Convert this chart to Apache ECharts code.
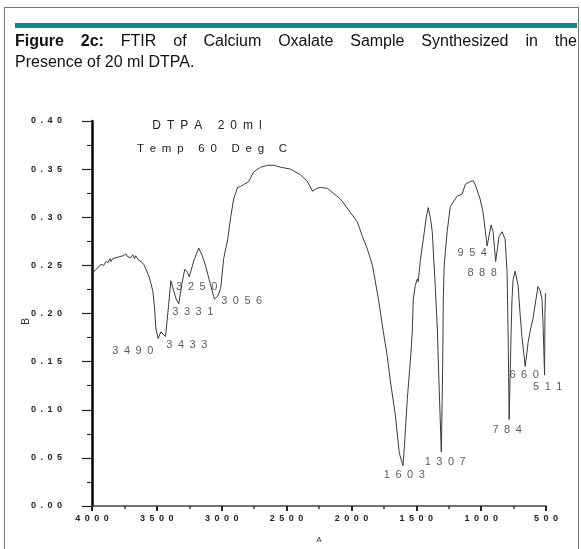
<!DOCTYPE html>
<html>
<head>
<meta charset="utf-8">
<script src="https://cdn.jsdelivr.net/npm/echarts@6/dist/echarts.min.js"></script>
<style>
  html, body { margin: 0; padding: 0; background: #fff; }
  #wrap { position: relative; width: 581px; height: 549px; overflow: hidden; }
  #frame { position: absolute; left: 4px; top: 7px; width: 573px; height: 560px; border: 1px solid #777; }
  #bar { position: absolute; left: 15px; top: 23px; width: 562px; height: 5px; background: #17878d; }
  #caption { position: absolute; left: 15px; top: 30px; width: 562px; font-family: "Liberation Sans", Arial, sans-serif;
             font-size: 16px; line-height: 21px; color: #111; }
  #caption .l1 { text-align: justify; text-align-last: justify; }
  #chart { position: absolute; left: 0; top: 0; width: 581px; height: 549px; }
</style>
</head>
<body>
<div id="wrap">
  <div id="chart"></div>
  <div id="frame"></div>
  <div id="bar"></div>
  <div id="caption">
    <div class="l1"><b>Figure 2c:</b> FTIR of Calcium Oxalate Sample Synthesized in the</div>
    <div>Presence of 20 ml DTPA.</div>
  </div>
</div>
<script>
// spectrum (wavenumber, absorbance)
var wavenumbers = [4000, 3975, 3954, 3930, 3910, 3892, 3875, 3862, 3854, 3840, 3828, 3815, 3800, 3790, 3777,
  3760, 3748, 3738, 3725, 3712, 3700, 3685, 3672, 3662, 3645, 3623, 3600, 3585, 3562, 3545, 3531, 3519, 3508,
  3490, 3469, 3454, 3433, 3410, 3392, 3377, 3354, 3331, 3308, 3285, 3265, 3250, 3215, 3177, 3150, 3123, 3085,
  3056, 3031, 3008, 2985, 2954, 2931, 2908, 2877, 2855, 2831, 2792, 2754, 2700, 2646, 2600, 2546, 2469, 2392,
  2338, 2300, 2269, 2238, 2185, 2085, 2008, 1954, 1915, 1877, 1838, 1792, 1754, 1723, 1700, 1662, 1631, 1603,
  1592, 1569, 1546, 1531, 1523, 1508, 1492, 1485, 1469, 1446, 1423, 1408, 1392, 1377, 1354, 1338, 1323, 1307,
  1296, 1292, 1285, 1262, 1238, 1185, 1146, 1123, 1085, 1062, 1046, 1008, 985, 954, 923, 908, 888, 862, 838,
  815, 800, 792, 784, 769, 762, 754, 738, 715, 700, 685, 660, 638, 623, 600, 577, 562, 546, 531, 523, 511,
  508, 504, 500];
var absorbance = [0.241, 0.245, 0.248, 0.251, 0.250, 0.254, 0.253, 0.257, 0.254, 0.257, 0.255, 0.258, 0.256,
  0.259, 0.257, 0.260, 0.258, 0.262, 0.259, 0.261, 0.258, 0.261, 0.257, 0.260, 0.256, 0.254, 0.251, 0.249,
  0.239, 0.231, 0.223, 0.208, 0.185, 0.174, 0.181, 0.182, 0.176, 0.208, 0.234, 0.232, 0.216, 0.210, 0.230,
  0.246, 0.243, 0.238, 0.255, 0.268, 0.260, 0.249, 0.229, 0.215, 0.218, 0.226, 0.257, 0.277, 0.300, 0.319,
  0.331, 0.332, 0.334, 0.337, 0.347, 0.352, 0.354, 0.354, 0.352, 0.350, 0.344, 0.337, 0.327, 0.330, 0.331,
  0.330, 0.319, 0.305, 0.295, 0.280, 0.267, 0.250, 0.215, 0.181, 0.155, 0.130, 0.095, 0.055, 0.042, 0.061,
  0.112, 0.150, 0.181, 0.215, 0.229, 0.236, 0.233, 0.255, 0.277, 0.300, 0.310, 0.300, 0.285, 0.229, 0.185,
  0.120, 0.056, 0.150, 0.215, 0.250, 0.285, 0.311, 0.322, 0.324, 0.334, 0.337, 0.338, 0.334, 0.319, 0.305,
  0.270, 0.292, 0.285, 0.254, 0.280, 0.285, 0.277, 0.243, 0.180, 0.090, 0.180, 0.215, 0.235, 0.244, 0.229,
  0.200, 0.175, 0.145, 0.170, 0.181, 0.195, 0.215, 0.228, 0.224, 0.215, 0.190, 0.136, 0.200, 0.221, 0.221];

// peak annotations: text and where the text sits (data coordinates)
var peakNames = ['3490', '3433', '3331', '3250', '3056', '954', '888', '1603', '1307', '784', '660', '511'];
var peakLabelX = [3685, 3269, 3223, 3192, 2846, 1069, 992, 1592, 1277, 800, 669, 487];
var peakLabelY = [0.161, 0.167, 0.202, 0.228, 0.213, 0.263, 0.242, 0.032, 0.046, 0.079, 0.136, 0.124];

var xTicks = { min: 500, max: 4000, step: 500 };
var yTicks = { min: 0, max: 0.4, step: 0.05 };

function spaced(s, sep) {
    return String(s).split('').join(sep || '\u2002');
}

var spectrum = wavenumbers.map(function(w, i) {
    return [w, absorbance[i]];
});
var peaks = peakNames.map(function(n, i) {
    return [peakLabelX[i], peakLabelY[i], n];
});

var chart = echarts.init(document.getElementById('chart'));
var option = {
    animation: false,
    grid: { left: 92, right: 35, top: 121, bottom: 40 },
    xAxis: {
        type: 'value',
        inverse: true,
        min: xTicks.min,
        max: xTicks.max,
        interval: xTicks.step,
        name: 'A',
        nameLocation: 'middle',
        nameGap: 30,
        nameMoveOverlap: false,
        nameTextStyle: { fontSize: 8, color: '#333', fontFamily: 'Liberation Sans' },
        axisLine: { lineStyle: { color: '#444', width: 1.5 } },
        axisTick: { length: 5, lineStyle: { color: '#222', width: 2 } },
        minorTick: { show: true, splitNumber: 2, length: 3, lineStyle: { color: '#333', width: 1.5 } },
        splitLine: { show: false },
        axisLabel: {
            margin: 8,
            fontSize: 9,
            fontWeight: 'bold',
            color: '#222',
            fontFamily: 'Liberation Sans',
            formatter: function(v) { return spaced(v); }
        }
    },
    yAxis: {
        type: 'value',
        min: yTicks.min,
        max: yTicks.max,
        interval: yTicks.step,
        name: 'B',
        nameLocation: 'middle',
        nameGap: 61,
        nameMoveOverlap: false,
        nameTextStyle: { fontSize: 10, color: '#333', fontFamily: 'Liberation Sans', padding: [0, 16, 0, 0] },
        axisLine: { lineStyle: { color: '#000', width: 2.5 } },
        axisTick: { length: 10, lineStyle: { color: '#222', width: 1.2 } },
        minorTick: { show: true, splitNumber: 2, length: 5, lineStyle: { color: '#333', width: 1.2 } },
        splitLine: { show: false },
        axisLabel: {
            margin: 30,
            fontSize: 9,
            fontWeight: 'bold',
            color: '#222',
            fontFamily: 'Liberation Sans',
            formatter: function(v) { return spaced(v.toFixed(2)); }
        }
    },
    graphic: [
        { type: 'text', x: 207, y: 126, style: { text: spaced('DTPA 20ml'), fontSize: 12,
          fill: '#222', fontFamily: 'Liberation Sans', align: 'center', verticalAlign: 'middle' } },
        { type: 'text', x: 212, y: 149, style: { text: spaced('Temp 60 Deg C'), fontSize: 11.5,
          fill: '#222', fontFamily: 'Liberation Sans', align: 'center', verticalAlign: 'middle' } }
    ],
    series: [
        {
            type: 'line',
            data: spectrum,
            showSymbol: false,
            smooth: false,
            lineStyle: { color: '#3a3a3a', width: 1 }
        },
        {
            type: 'scatter',
            data: peaks,
            clip: false,
            symbolSize: 1,
            itemStyle: { color: 'rgba(0,0,0,0)' },
            label: {
                show: true,
                position: 'inside',
                color: '#333',
                fontSize: 11,
                fontFamily: 'Liberation Sans',
                formatter: function(p) { return spaced(p.data[2]); }
            }
        }
    ]
};
chart.setOption(option);
</script>
</body>
</html>
